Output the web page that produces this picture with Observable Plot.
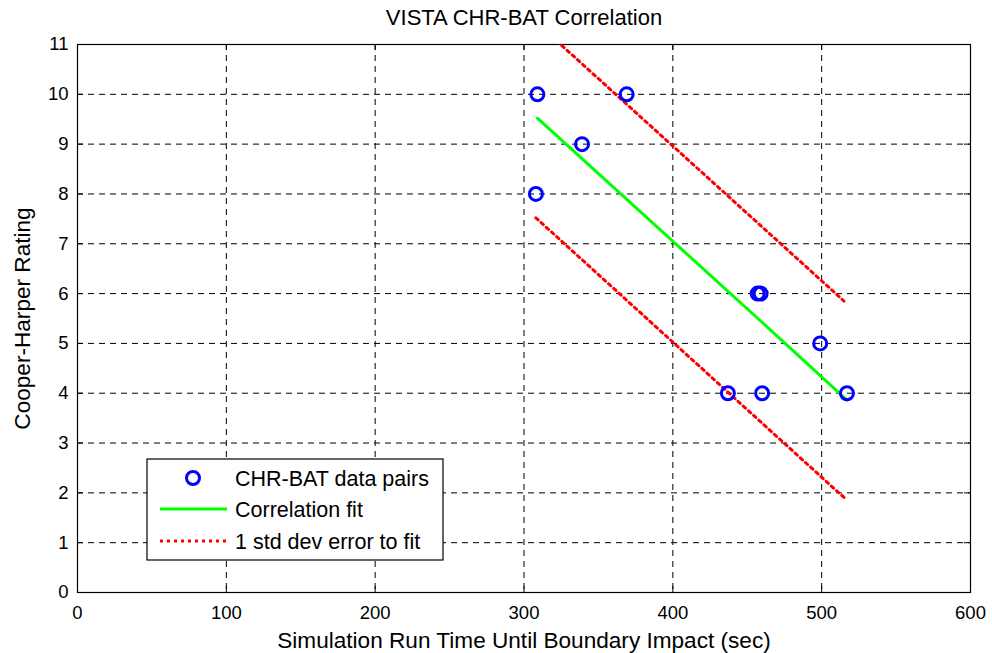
<!DOCTYPE html>
<html><head><meta charset="utf-8">
<script src="https://cdn.jsdelivr.net/npm/d3@7"></script>
<script src="https://cdn.jsdelivr.net/npm/@observablehq/plot@0.6"></script>
<style>
body{margin:0;background:#fff;}
svg{font-family:"Liberation Sans",Arial,sans-serif;}
</style>
</head><body><div id="chart"></div>
<script>
const runTime = [309, 308, 339, 369, 457, 459, 437, 460, 499, 517];
const rating  = [10, 8, 9, 10, 6, 6, 4, 4, 5, 4];
const fitX = [309, 459, 517];
const fitY = [9.52, 5.45, 3.86];
const upperX = [308, 515];
const upperY = [11.45, 5.85];
const lowerX = [308, 516];
const lowerY = [7.52, 1.88];
const xTicks = [0, 100, 200, 300, 400, 500, 600];
const yTicks = [0, 1, 2, 3, 4, 5, 6, 7, 8, 9, 10, 11];
const legendLabels = ["CHR-BAT data pairs", "Correlation fit", "1 std dev error to fit"];
const titleText = "VISTA CHR-BAT Correlation";
const xLabelText = "Simulation Run Time Until Boundary Impact (sec)";
const yLabelText = "Cooper-Harper Rating";

const points = runTime.map((x, i) => ({x, y: rating[i]}));
const fit = fitX.map((x, i) => ({x, y: fitY[i]}));
const upper = upperX.map((x, i) => ({x, y: upperY[i]}));
const lower = lowerX.map((x, i) => ({x, y: lowerY[i]}));

const W = 992, H = 653, ML = 77, MR = 22, MT = 44, MB = 61;
const FW = W - ML - MR, FH = H - MT - MB, TL = 6;
const gridStyle = {stroke: "black", strokeOpacity: 1, strokeWidth: 1, strokeDasharray: "6,5"};

const chart = Plot.plot({
  width: W, height: H,
  marginLeft: ML, marginRight: MR, marginTop: MT, marginBottom: MB,
  style: {fontFamily: "Liberation Sans, Arial, sans-serif", background: "white", color: "black", overflow: "visible"},
  x: {domain: [0, 600]},
  y: {domain: [0, 11]},
  marks: [
    Plot.gridX(xTicks, gridStyle),
    Plot.gridY(yTicks, gridStyle),
    Plot.tickX(xTicks, {x: d => d, stroke: "black", insetTop: FH - TL}),
    Plot.tickX(xTicks, {x: d => d, stroke: "black", insetBottom: FH - TL}),
    Plot.tickY(yTicks, {y: d => d, stroke: "black", insetRight: FW - TL}),
    Plot.tickY(yTicks, {y: d => d, stroke: "black", insetLeft: FW - TL}),
    Plot.frame({stroke: "black", strokeWidth: 1.2}),
    Plot.axisX(xTicks, {anchor: "bottom", tickSize: 0, tickPadding: 13, fontSize: 18.5, label: null, tickFormat: d => String(d)}),
    Plot.axisY(yTicks, {anchor: "left", tickSize: 0, tickPadding: 9, fontSize: 18.5, label: null, tickFormat: d => String(d)}),
    Plot.line(upper, {x: "x", y: "y", stroke: "#ff0000", strokeWidth: 3, strokeDasharray: "3,4", clip: true}),
    Plot.line(lower, {x: "x", y: "y", stroke: "#ff0000", strokeWidth: 3, strokeDasharray: "3,4", clip: true}),
    Plot.line(fit, {x: "x", y: "y", stroke: "#00ff00", strokeWidth: 3}),
    Plot.dot(points, {x: "x", y: "y", r: 6.5, stroke: "#0000ff", strokeWidth: 3, fill: "none"}),
    Plot.text([titleText], {text: d => d, frameAnchor: "top", dy: -27, fontSize: 22, lineAnchor: "middle", textAnchor: "middle"}),
    Plot.text([xLabelText], {text: d => d, frameAnchor: "bottom", dy: 48, fontSize: 22.6, lineAnchor: "middle", textAnchor: "middle"}),
    Plot.text([yLabelText], {text: d => d, frameAnchor: "left", dx: -55, rotate: -90, fontSize: 22.6, lineAnchor: "middle", textAnchor: "middle"})
  ]
});
document.getElementById("chart").appendChild(chart);

// Legend box (MATLAB style, inside plot area)
const svg = d3.select(chart);
const lg = svg.append("g").attr("font-family", "Liberation Sans, Arial, sans-serif")
  .attr("font-size", 21.5).attr("text-anchor", "start");
const LX = 147, LY = 459, LW = 296, LH = 101, rowY = [478, 509, 541];
lg.append("rect").attr("x", LX).attr("y", LY).attr("width", LW).attr("height", LH)
  .attr("fill", "white").attr("stroke", "black").attr("stroke-width", 1.2);
lg.append("circle").attr("cx", 193).attr("cy", rowY[0]).attr("r", 6.5)
  .attr("fill", "none").attr("stroke", "#0000ff").attr("stroke-width", 3);
lg.append("line").attr("x1", 160).attr("x2", 227).attr("y1", rowY[1]).attr("y2", rowY[1])
  .attr("stroke", "#00ff00").attr("stroke-width", 3);
lg.append("line").attr("x1", 160).attr("x2", 227).attr("y1", rowY[2]).attr("y2", rowY[2])
  .attr("stroke", "#ff0000").attr("stroke-width", 3).attr("stroke-dasharray", "3,4");
legendLabels.forEach((t, i) => {
  lg.append("text").attr("x", 235).attr("y", rowY[i]).attr("dy", "0.35em")
    .attr("text-anchor", "start").attr("fill", "black").text(t);
});
</script>
</body></html>
